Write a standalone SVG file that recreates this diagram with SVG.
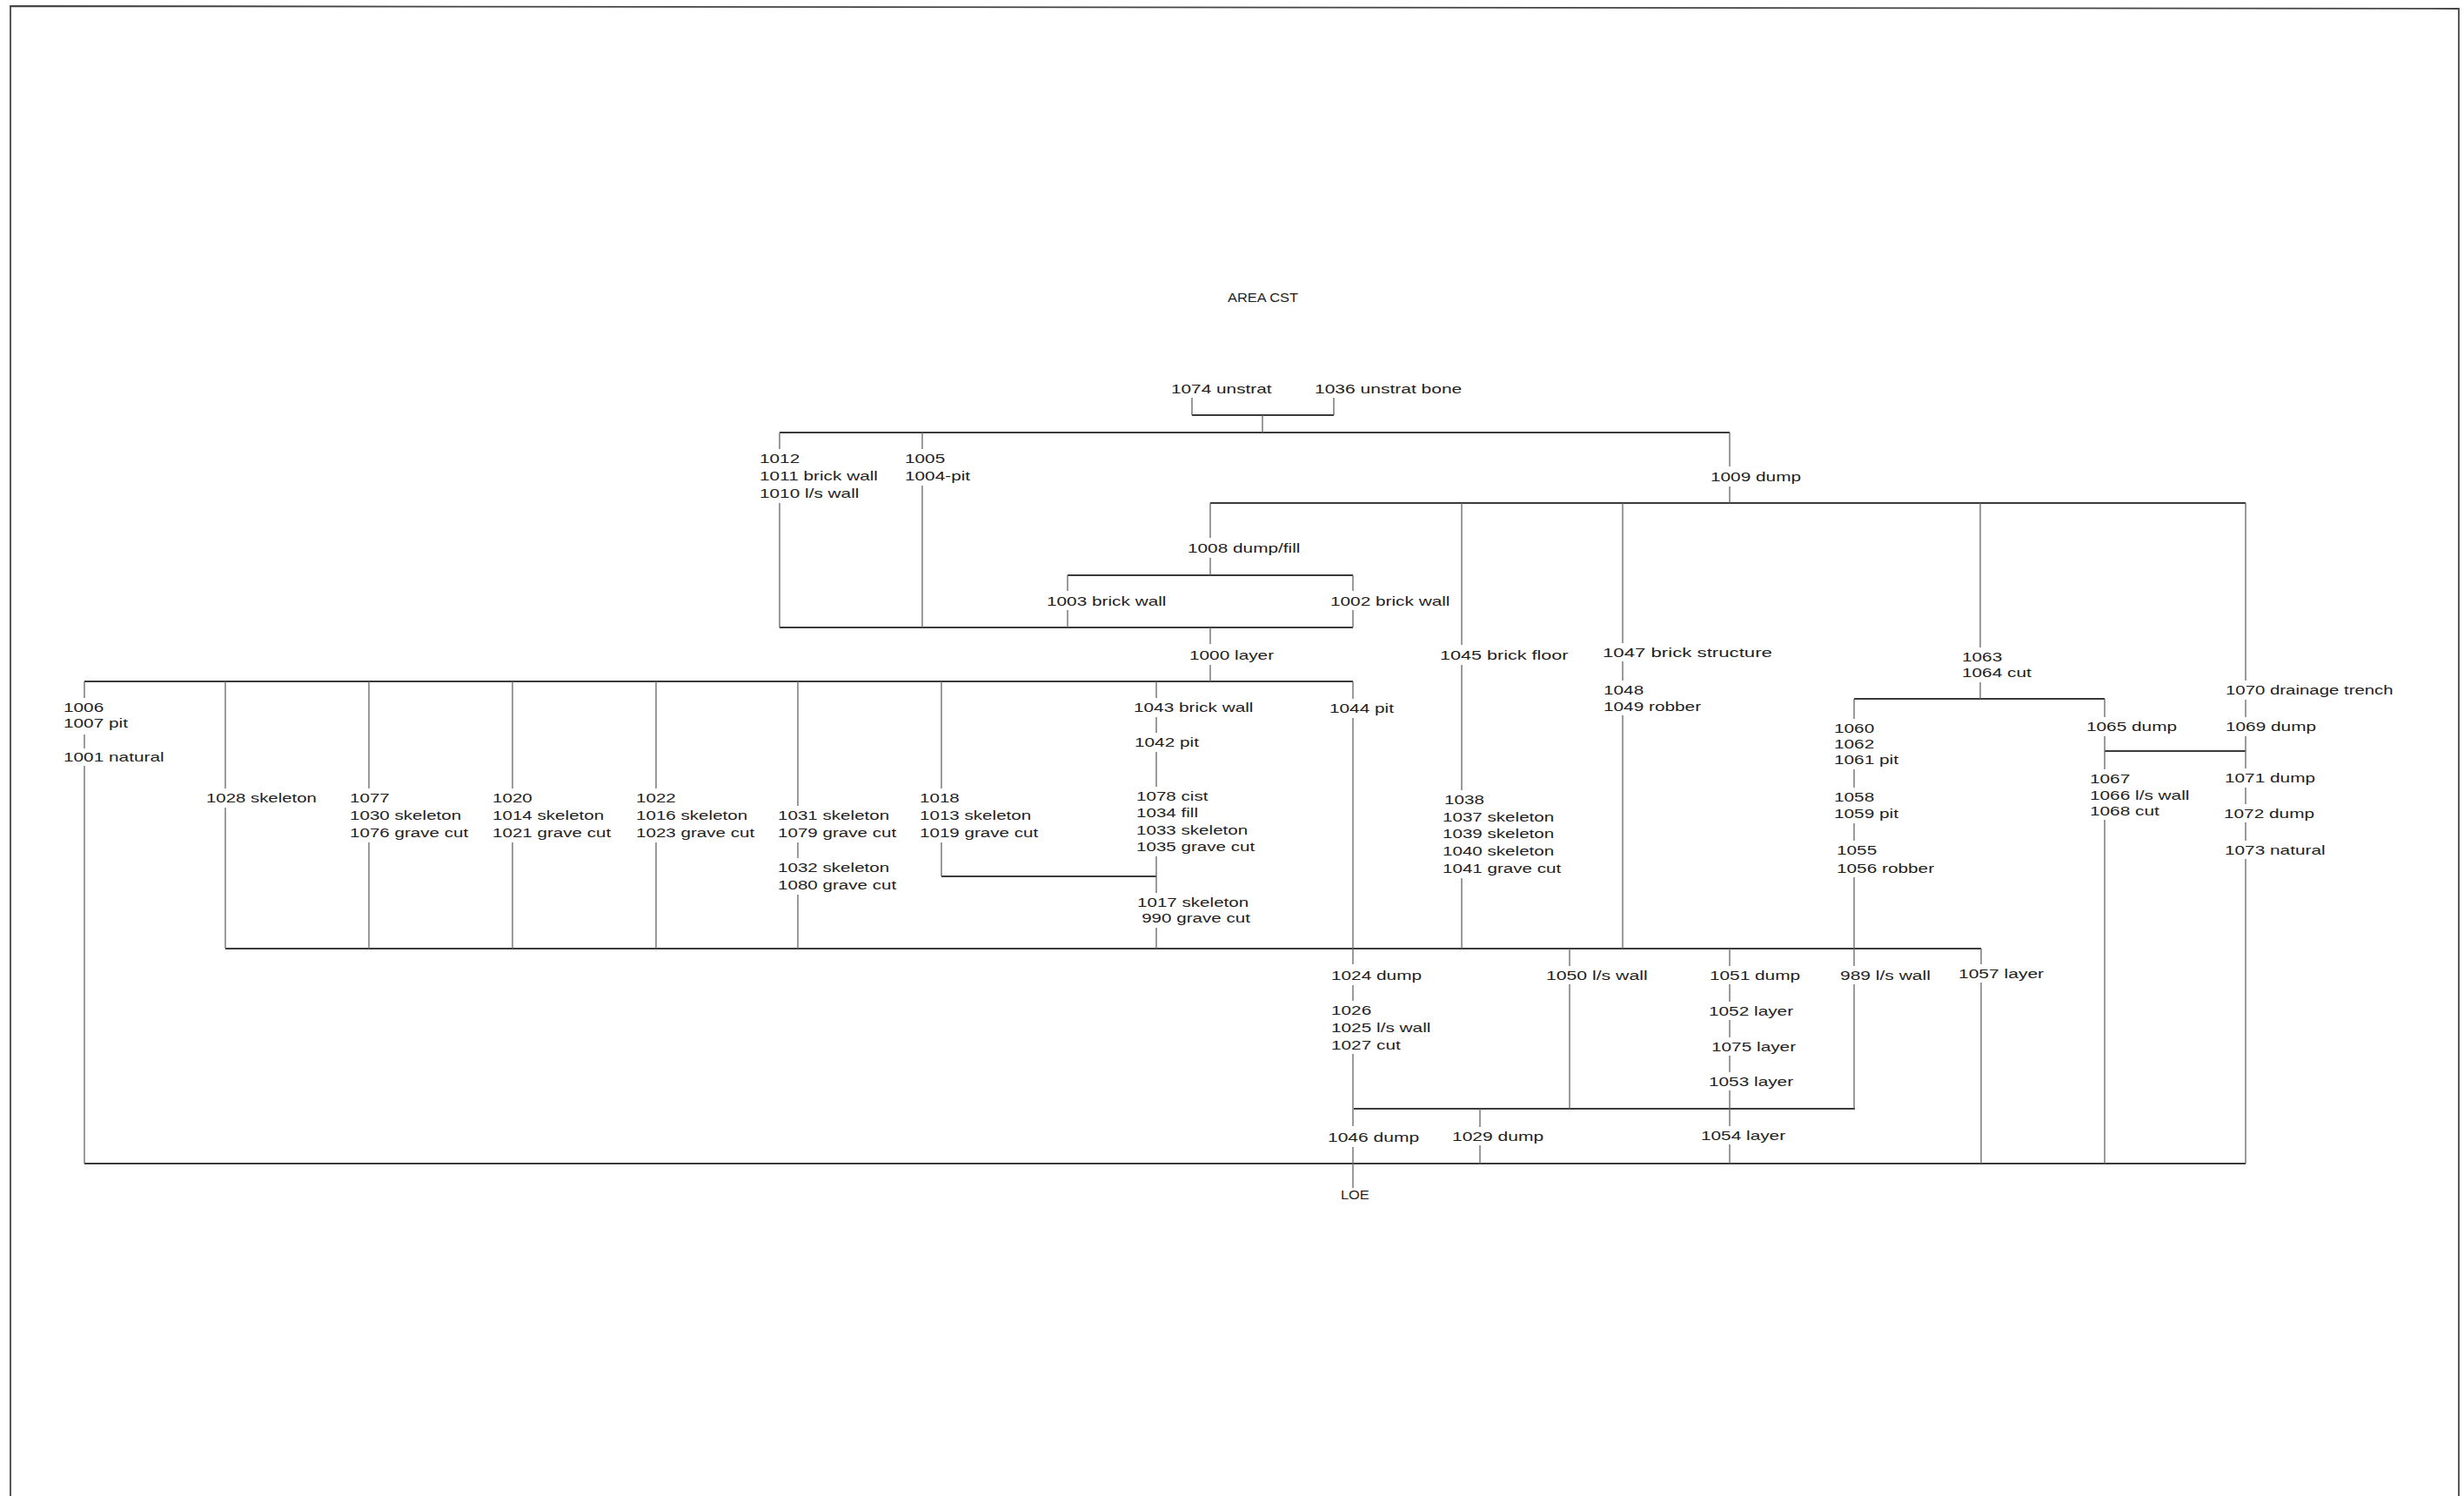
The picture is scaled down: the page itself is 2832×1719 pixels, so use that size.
<svg xmlns="http://www.w3.org/2000/svg" width="2832" height="1719" viewBox="0 0 2832 1719">
<style>
.t{font-family:"Liberation Sans",Arial,sans-serif;font-size:20px;fill:#1e1e1e}
.h{stroke:#3a3a3a;stroke-width:2;fill:none}
.v{stroke:#666;stroke-width:1.3;fill:none}
.f{stroke:#444;stroke-width:1.8;fill:none}
</style>
<rect width="2832" height="1719" fill="#fff"/>
<polyline class="f" points="12,1719 12,7 2826,10 2826,1719"/>
<g id="title"><text class="t" transform="translate(1411 347) scale(.82 .76)">AREA CST</text></g>
<g id="connectors">
<path class="h" d="M1370,477H1533M896,497H1988M1391,578H2581M1227,661H1555M896,721H1555M97,783H1555M1082,1007H1329M259,1090H2277M2131,803H2419M2419,863H2581M1556,1274H2132M97,1337H2581"/>
<path class="v" d="M1370,457V477M1533,457V477M1451,477V497
M896,497V516M896,578V721
M1060,497V516M1060,558V721
M1988,497V536M1988,559V578
M1391,578V618M1391,641V661M1391,721V740M1391,764V783
M1227,661V679M1227,701V721M1555,661V679M1555,701V721
M97,783V802M97,844V860M97,880V1337
M259,783V906M259,928V1090
M424,783V906M424,968V1090
M589,783V906M589,968V1090
M754,783V906M754,968V1090
M917,783V926M917,968V986M917,1028V1090
M1082,783V906M1082,968V1007
M1329,783V802M1329,824V842M1329,864V904M1329,984V1026M1329,1066V1090
M1555,783V803M1555,825V1108M1555,1132V1150M1555,1211V1294M1555,1318V1365
M1680,578V741M1680,764V908M1680,1009V1090
M1865,578V739M1865,760V782M1865,822V1090
M2276,578V744M2276,784V803
M2131,803V826M2131,884V905M2131,946V966M2131,1008V1110M2131,1131V1274
M2419,803V824M2419,846V884M2419,942V1337
M2581,578V782M2581,804V824M2581,846V883M2581,905V924M2581,945V966M2581,987V1337
M1804,1090V1110M1804,1131V1274
M1988,1090V1110M1988,1131V1151M1988,1172V1192M1988,1213V1232M1988,1253V1294M1988,1315V1337
M2277,1090V1108M2277,1129V1337
M1701,1274V1295M1701,1316V1337"/>
</g>
<g id="n1074"><text class="t" transform="translate(1346 452) scale(1.04 .76)">1074 unstrat</text></g>
<g id="n1036"><text class="t" transform="translate(1511 452) scale(1.05 .76)">1036 unstrat bone</text></g>
<g id="n1012"><text class="t" transform="translate(873 532) scale(1.04 .76)"><tspan x="0">1012</tspan><tspan x="0" dy="26.3">1011 brick wall</tspan><tspan x="0" dy="26.3">1010 l/s wall</tspan></text></g>
<g id="n1005"><text class="t" transform="translate(1040 532) scale(1.04 .76)"><tspan x="0">1005</tspan><tspan x="0" dy="26.3">1004-pit</tspan></text></g>
<g id="n1009"><text class="t" transform="translate(1966 553) scale(1.04 .76)">1009 dump</text></g>
<g id="n1008"><text class="t" transform="translate(1365 635) scale(1.04 .76)">1008 dump/fill</text></g>
<g id="n1003"><text class="t" transform="translate(1203 696) scale(1.04 .76)">1003 brick wall</text></g>
<g id="n1002"><text class="t" transform="translate(1529 696) scale(1.04 .76)">1002 brick wall</text></g>
<g id="n1000"><text class="t" transform="translate(1367 758) scale(1.04 .76)">1000 layer</text></g>
<g id="n1045"><text class="t" transform="translate(1655 758) scale(1.08 .76)">1045 brick floor</text></g>
<g id="n1047"><text class="t" transform="translate(1842 755) scale(1.11 .76)">1047 brick structure</text></g>
<g id="n1048"><text class="t" transform="translate(1843 798) scale(1.04 .76)"><tspan x="0">1048</tspan><tspan x="0" dy="25">1049 robber</tspan></text></g>
<g id="n1063"><text class="t" transform="translate(2255 760) scale(1.04 .76)"><tspan x="0">1063</tspan><tspan x="0" dy="24.3">1064 cut</tspan></text></g>
<g id="n1070"><text class="t" transform="translate(2558 798) scale(1.02 .76)">1070 drainage trench</text></g>
<g id="n1006"><text class="t" transform="translate(73 818) scale(1.04 .76)"><tspan x="0">1006</tspan><tspan x="0" dy="24.3">1007 pit</tspan></text></g>
<g id="n1001"><text class="t" transform="translate(73 875) scale(1.04 .76)">1001 natural</text></g>
<g id="n1043"><text class="t" transform="translate(1303 818) scale(1.04 .76)">1043 brick wall</text></g>
<g id="n1044"><text class="t" transform="translate(1528 819) scale(1.04 .76)">1044 pit</text></g>
<g id="n1042"><text class="t" transform="translate(1304 858) scale(1.04 .76)">1042 pit</text></g>
<g id="n1060"><text class="t" transform="translate(2108 842) scale(1.04 .76)"><tspan x="0">1060</tspan><tspan x="0" dy="23.7">1062</tspan><tspan x="0" dy="23.7">1061 pit</tspan></text></g>
<g id="n1065"><text class="t" transform="translate(2398 840) scale(1.04 .76)">1065 dump</text></g>
<g id="n1069"><text class="t" transform="translate(2558 840) scale(1.04 .76)">1069 dump</text></g>
<g id="n1067"><text class="t" transform="translate(2402 900) scale(1.04 .76)"><tspan x="0">1067</tspan><tspan x="0" dy="24.6">1066 l/s wall</tspan><tspan x="0" dy="24.6">1068 cut</tspan></text></g>
<g id="n1071"><text class="t" transform="translate(2557 899) scale(1.04 .76)">1071 dump</text></g>
<g id="n1028"><text class="t" transform="translate(237 922) scale(1.02 .76)">1028 skeleton</text></g>
<g id="n1077"><text class="t" transform="translate(402 922) scale(1.03 .76)"><tspan x="0">1077</tspan><tspan x="0" dy="26.3">1030 skeleton</tspan><tspan x="0" dy="26.3">1076 grave cut</tspan></text></g>
<g id="n1020"><text class="t" transform="translate(566 922) scale(1.03 .76)"><tspan x="0">1020</tspan><tspan x="0" dy="26.3">1014 skeleton</tspan><tspan x="0" dy="26.3">1021 grave cut</tspan></text></g>
<g id="n1022"><text class="t" transform="translate(731 922) scale(1.03 .76)"><tspan x="0">1022</tspan><tspan x="0" dy="26.3">1016 skeleton</tspan><tspan x="0" dy="26.3">1023 grave cut</tspan></text></g>
<g id="n1031"><text class="t" transform="translate(894 942) scale(1.03 .76)"><tspan x="0">1031 skeleton</tspan><tspan x="0" dy="26.3">1079 grave cut</tspan></text></g>
<g id="n1032"><text class="t" transform="translate(894 1002) scale(1.03 .76)"><tspan x="0">1032 skeleton</tspan><tspan x="0" dy="26.3">1080 grave cut</tspan></text></g>
<g id="n1018"><text class="t" transform="translate(1057 922) scale(1.03 .76)"><tspan x="0">1018</tspan><tspan x="0" dy="26.3">1013 skeleton</tspan><tspan x="0" dy="26.3">1019 grave cut</tspan></text></g>
<g id="n1078"><text class="t" transform="translate(1306 920) scale(1.03 .76)"><tspan x="0">1078 cist</tspan><tspan x="0" dy="25.4">1034 fill</tspan><tspan x="0" dy="25.4">1033 skeleton</tspan><tspan x="0" dy="25.4">1035 grave cut</tspan></text></g>
<g id="n1017"><text class="t" transform="translate(1307 1042) scale(1.03 .76)"><tspan x="0">1017 skeleton</tspan><tspan x="5" dy="23.7">990 grave cut</tspan></text></g>
<g id="n1038"><text class="t" transform="translate(1658 924) scale(1.03 .76)"><tspan x="2">1038</tspan><tspan x="0" dy="25.9">1037 skeleton</tspan><tspan x="0" dy="25.9">1039 skeleton</tspan><tspan x="0" dy="25.9">1040 skeleton</tspan><tspan x="0" dy="25.9">1041 grave cut</tspan></text></g>
<g id="n1058"><text class="t" transform="translate(2108 921) scale(1.04 .76)"><tspan x="0">1058</tspan><tspan x="0" dy="25">1059 pit</tspan></text></g>
<g id="n1072"><text class="t" transform="translate(2556 940) scale(1.04 .76)">1072 dump</text></g>
<g id="n1055"><text class="t" transform="translate(2111 982) scale(1.04 .76)"><tspan x="0">1055</tspan><tspan x="0" dy="27.6">1056 robber</tspan></text></g>
<g id="n1073"><text class="t" transform="translate(2557 982) scale(1.04 .76)">1073 natural</text></g>
<g id="n1024"><text class="t" transform="translate(1530 1126) scale(1.04 .76)">1024 dump</text></g>
<g id="n1050"><text class="t" transform="translate(1777 1126) scale(1.06 .76)">1050 l/s wall</text></g>
<g id="n1051"><text class="t" transform="translate(1965 1126) scale(1.04 .76)">1051 dump</text></g>
<g id="n989"><text class="t" transform="translate(2115 1126) scale(1.05 .76)">989 l/s wall</text></g>
<g id="n1057"><text class="t" transform="translate(2251 1124) scale(1.05 .76)">1057 layer</text></g>
<g id="n1026"><text class="t" transform="translate(1530 1166) scale(1.04 .76)"><tspan x="0">1026</tspan><tspan x="0" dy="26.3">1025 l/s wall</tspan><tspan x="0" dy="26.3">1027 cut</tspan></text></g>
<g id="n1052"><text class="t" transform="translate(1964 1167) scale(1.04 .76)">1052 layer</text></g>
<g id="n1075"><text class="t" transform="translate(1967 1208) scale(1.04 .76)">1075 layer</text></g>
<g id="n1053"><text class="t" transform="translate(1964 1248) scale(1.04 .76)">1053 layer</text></g>
<g id="n1046"><text class="t" transform="translate(1526 1312) scale(1.05 .76)">1046 dump</text></g>
<g id="n1029"><text class="t" transform="translate(1669 1311) scale(1.05 .76)">1029 dump</text></g>
<g id="n1054"><text class="t" transform="translate(1955 1310) scale(1.04 .76)">1054 layer</text></g>
<g id="nLOE"><text class="t" transform="translate(1541 1378) scale(.82 .76)">LOE</text></g>
</svg>
